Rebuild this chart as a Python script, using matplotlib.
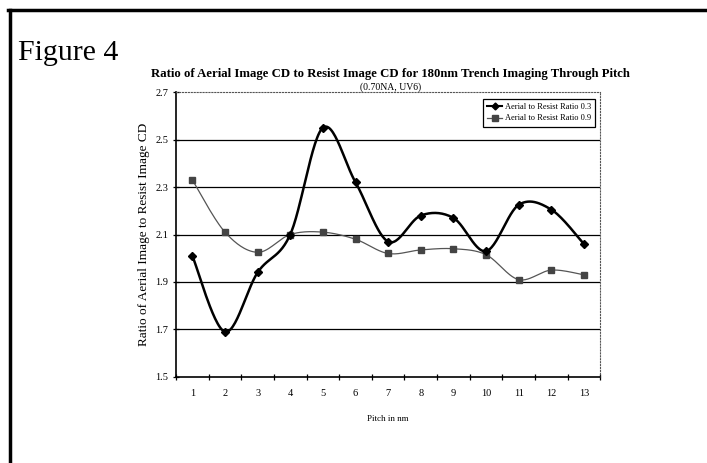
import numpy as np
import matplotlib.pyplot as plt
from matplotlib.lines import Line2D

plt.rcParams['font.family'] = ['Liberation Serif', 'DejaVu Serif']

pitch = np.arange(1, 14)
ratio_03 = [2.01, 1.69, 1.94, 2.10, 2.55, 2.32, 2.07, 2.18, 2.17, 2.03, 2.225, 2.205, 2.06]
ratio_09 = [2.33, 2.11, 2.025, 2.10, 2.11, 2.08, 2.02, 2.035, 2.04, 2.015, 1.91, 1.95, 1.93]
labels = ['Aerial to Resist Ratio 0.3', 'Aerial to Resist Ratio 0.9']


def smooth(x, y, n=30):
  # spreadsheet-style smoothed line: cubic bezier with catmull-rom handles
  x = np.asarray(x, float)
  y = np.asarray(y, float)
  px = np.concatenate([[x[0]], x, [x[-1]]])
  py = np.concatenate([[y[0]], y, [y[-1]]])
  t = np.linspace(0, 1, n)[:, None]
  xs, ys = [], []
  for i in range(len(x) - 1):
    p0 = np.array([px[i+1], py[i+1]])
    p3 = np.array([px[i+2], py[i+2]])
    c1 = p0 + (np.array([px[i+2], py[i+2]]) - np.array([px[i], py[i]])) / 6
    c2 = p3 - (np.array([px[i+3], py[i+3]]) - np.array([px[i+1], py[i+1]])) / 6
    b = (1-t)**3*p0 + 3*(1-t)**2*t*c1 + 3*(1-t)*t**2*c2 + t**3*p3
    xs.extend(b[:, 0])
    ys.extend(b[:, 1])
  return xs, ys


fig = plt.figure(figsize=(7.07, 4.63), dpi=100)
ax = fig.add_axes([0.249, 0.186, 0.600, 0.615])

# outer frame of the page
fig.add_artist(Line2D([0.012, 1.0], [0.979, 0.979], color='black', lw=2.5))
fig.add_artist(Line2D([0.014, 0.014], [0.0, 0.979], color='black', lw=2.5))
fig.text(0.025, 0.885, 'Figure 4', fontsize=21.5, va='center')

for v in [1.7, 1.9, 2.1, 2.3, 2.5]:
  ax.axhline(v, color='black', lw=0.9, zorder=1)

sx, sy = smooth(pitch, ratio_09)
ax.plot(sx, sy, color='#555555', lw=0.9, zorder=2)
ax.plot(pitch, ratio_09, 's', color='#444444', ms=4.5, zorder=3)

sx, sy = smooth(pitch, ratio_03)
ax.plot(sx, sy, color='black', lw=1.8, zorder=4)
ax.plot(pitch, ratio_03, 'D', color='black', ms=3.8, zorder=5)

ax.set_xlim(0.5, 13.5)
ax.set_ylim(1.5, 2.7)
ax.set_yticks(np.arange(1.5, 2.71, 0.2))
ax.set_yticklabels(['%.1f' % v for v in np.arange(1.5, 2.71, 0.2)])
ax.set_xticks(np.arange(0.5, 13.6, 1))
ax.set_xticklabels([])
ax.set_xticks(pitch, minor=True)
ax.set_xticklabels([str(p) for p in pitch], minor=True)
ax.tick_params(axis='x', which='minor', length=0, pad=9, labelsize=7.5)
ax.tick_params(axis='x', which='major', direction='inout', length=4, width=0.9)
ax.tick_params(axis='y', direction='inout', length=5, width=0.9, labelsize=7.5, pad=3)

ax.spines['left'].set_linewidth(1.2)
ax.spines['bottom'].set_linewidth(1.2)
for s in ['top', 'right']:
  ax.spines[s].set_linestyle(':')
  ax.spines[s].set_linewidth(0.8)
  ax.spines[s].set_color('#555555')

ax.set_xlabel('Pitch in nm', fontsize=6.5, labelpad=12)
ax.set_ylabel('Ratio of Aerial Image to Resist Image CD', fontsize=9.5, labelpad=4)
fig.text(0.552, 0.840, 'Ratio of Aerial Image CD to Resist Image CD for 180nm Trench Imaging Through Pitch',
         ha='center', va='center', fontsize=9.2, fontweight='bold')
fig.text(0.552, 0.812, '(0.70NA, UV6)', ha='center', va='center', fontsize=7)

handles = [Line2D([], [], color='black', lw=1.5, marker='D', ms=3.5),
           Line2D([], [], color='#555555', lw=0.9, marker='s', ms=4, mfc='#444444', mec='#444444')]
leg = ax.legend(handles, labels, loc='upper right', bbox_to_anchor=(0.998, 0.992), fontsize=6,
                fancybox=False, framealpha=1, edgecolor='black', handlelength=1.8,
                handletextpad=0.3, borderpad=0.5, labelspacing=0.45)
leg.get_frame().set_linewidth(0.9)

fig.savefig('out.png', dpi=100)
